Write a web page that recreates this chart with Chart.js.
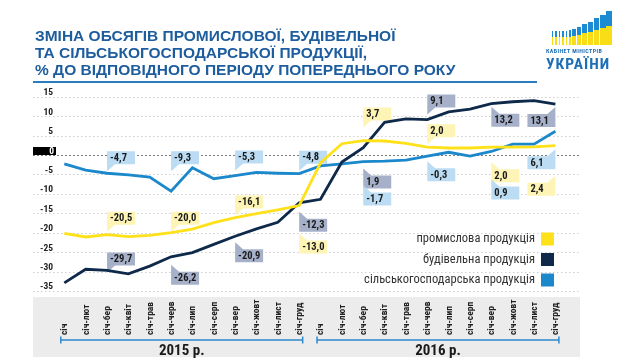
<!DOCTYPE html>
<html>
<head>
<meta charset="utf-8">
<script src="https://cdn.jsdelivr.net/npm/chart.js@4/dist/chart.umd.min.js"></script>
<style>
html,body{margin:0;padding:0;background:#fff;}
#wrap{position:relative;width:638px;height:359px;overflow:hidden;font-family:"Liberation Sans Narrow","Roboto Condensed","Roboto",sans-serif;}
#c{position:absolute;left:0;top:0;}
#title{position:absolute;left:35px;top:27px;color:#1d5d9e;font-family:"Liberation Sans",Arial,sans-serif;font-weight:bold;font-size:15.5px;line-height:17px;white-space:nowrap;}
#rule{position:absolute;left:33px;top:81px;width:504px;height:2px;background:#2b7bc0;}
#logo1{position:absolute;left:546px;top:47px;color:#1d6fb8;font-weight:bold;font-size:6px;letter-spacing:0.4px;white-space:nowrap;}
#logo2{position:absolute;left:546px;top:55px;color:#1d6fb8;font-weight:bold;font-size:15.5px;letter-spacing:1px;white-space:nowrap;}
.bar{position:absolute;background:linear-gradient(#1d8bd1 0%,#1d8bd1 45%,#f9dd16 45%,#f9dd16 100%);}
</style>
</head>
<body>
<div id="wrap">
<canvas id="c" width="638" height="359"></canvas>
<div id="title">ЗМІНА ОБСЯГІВ ПРОМИСЛОВОЇ, БУДІВЕЛЬНОЇ<br>ТА СІЛЬСЬКОГОСПОДАРСЬКОЇ ПРОДУКЦІЇ,<br>% ДО ВІДПОВІДНОГО ПЕРІОДУ ПОПЕРЕДНЬОГО РОКУ</div>
<div id="rule"></div>
<div id="bars"></div>
<div id="logo1">КАБІНЕТ МІНІСТРІВ</div>
<div id="logo2">УКРАЇНИ</div>
</div>
<script>
// ---------- data ----------
const months = ['січ','січ-лют','січ-бер','січ-квіт','січ-трав','січ-черв','січ-лип','січ-серп','січ-вер','січ-жовт','січ-лист','січ-груд',
                'січ','січ-лют','січ-бер','січ-квіт','січ-трав','січ-черв','січ-лип','січ-серп','січ-вер','січ-жовт','січ-лист','січ-груд'];
const years = ['2015 р.','2016 р.'];
const seriesNames = ['промислова продукція','будівельна продукція','сільськогосподарська продукція'];
const yTicks = [15,10,5,0,-5,-10,-15,-20,-25,-30,-35];
const industry =     [-20.2,-21.1,-20.5,-21.0,-20.7,-20.0,-19.1,-17.4,-16.1,-15.1,-14.1,-13.0,-2.0,2.9,3.7,3.6,3.0,2.0,1.8,1.8,2.0,2.0,2.1,2.4];
const construction = [-32.9,-29.4,-29.7,-30.6,-28.6,-26.2,-25.1,-23.0,-20.9,-19.0,-17.3,-12.3,-11.4,-1.8,1.9,8.4,9.3,9.1,11.1,11.8,13.2,13.7,14.0,13.1];
const agriculture =  [-2.3,-3.9,-4.7,-5.1,-5.7,-9.3,-3.3,-6.1,-5.3,-4.5,-4.7,-4.8,-2.8,-2.3,-1.7,-1.6,-1.3,-0.3,0.7,-0.3,0.9,2.8,2.8,6.1];
const labelIdx = [2,5,8,11,14,17,20,23];

// ---------- styling / layout ----------
const COLORS = ['#FFE11A','#0e2949','#1b88cc'];
const BOXBG = ['#fdf4b5','#a6b1c9','#bbdcf3'];
// box top offset (px) from point for each labelled index; negative = above the point
const boxOffsets = [
  [-23,-21,-22,35,-33,-23,22,37],
  [-18,15,13,16,28,-25,10,10],
  [-22,-40,-25,-23,31,12,35,25]
];
const FONT = '"Liberation Sans Narrow","Roboto Condensed","Roboto",sans-serif';

// logo bars
(function(){
  const bars = document.getElementById('bars');
  const spec = [
    [551.5,1.5,31],[555,1.5,31],[558.5,1.5,31],[562,1.5,31],[565.5,1.5,31],[569,1.5,30],
    [572,3.5,29],[577,4,27],[582,4.5,24],[587.5,5,21.5],[593.5,5.5,18],[600,5.5,14.5],[606,5.5,11]
  ];
  spec.forEach(s=>{
    const d=document.createElement('div');d.className='bar';
    d.style.left=s[0]+'px';d.style.width=s[1]+'px';d.style.top=s[2]+'px';d.style.height=(45-s[2])+'px';
    bars.appendChild(d);
  });
})();

const toPts = arr => arr.map((v,i)=>({x:i,y:v}));
const fmt = v => v.toFixed(1).replace('.',',');

const deco = {
  id:'deco',
  beforeDraw(chart){
    const ctx=chart.ctx;
    ctx.save();
    ctx.fillStyle='#ececec';
    ctx.fillRect(33,297,547,60);
    ctx.restore();
  },
  beforeDatasetsDraw(chart){
    const {ctx, chartArea:a, scales:{x,y}} = chart;
    ctx.save();
    // grid lines
    yTicks.forEach(v=>{
      const py=Math.round(y.getPixelForValue(v))+0.5;
      ctx.beginPath();
      ctx.setLineDash(v===0?[2,2]:[1.5,2.5]);
      ctx.strokeStyle=v===0?'#7a7a7a':'#cfcfcf';
      ctx.lineWidth=1;
      ctx.moveTo(a.left,py);ctx.lineTo(a.right,py);ctx.stroke();
    });
    ctx.setLineDash([]);
    // y labels
    ctx.font='bold 9.5px '+FONT;
    ctx.textAlign='right';ctx.textBaseline='middle';
    yTicks.forEach(v=>{
      const py=y.getPixelForValue(v);
      if(v===0){
        ctx.fillStyle='#000';ctx.fillRect(33,147,23,8);
        ctx.fillStyle='#fff';ctx.fillText('0',54,151.5);
      } else {
        ctx.fillStyle='#222';ctx.fillText(String(v),53,py-4);
      }
    });
    // value boxes
    const series=[industry,construction,agriculture];
    const W=28,H=13,TW=8,TH=7;
    ctx.font='bold 10.5px '+FONT;
    ctx.textAlign='left';ctx.textBaseline='middle';
    series.forEach((arr,s)=>{
      labelIdx.forEach((idx,k)=>{
        const px=x.getPixelForValue(idx), py=y.getPixelForValue(arr[idx]);
        const off=boxOffsets[s][k];
        const top=py+off, bot=top+H;
        const right = idx===months.length-1;
        ctx.fillStyle=BOXBG[s];
        ctx.beginPath();
        if(!right){
          const x0=px;
          if(off<0){ // box above, tail down
            ctx.moveTo(x0,top);ctx.lineTo(x0+W,top);ctx.lineTo(x0+W,bot);ctx.lineTo(x0+TW,bot);ctx.lineTo(x0,bot+TH);
          } else { // box below, tail up
            ctx.moveTo(x0,top-TH);ctx.lineTo(x0+TW,top);ctx.lineTo(x0+W,top);ctx.lineTo(x0+W,bot);ctx.lineTo(x0,bot);
          }
          ctx.closePath();ctx.fill();
          ctx.fillStyle='#1a1a1a';ctx.fillText(fmt(arr[idx]),x0+3,top+H/2+0.5);
        } else {
          const x1=px;
          if(off<0){
            ctx.moveTo(x1-W,top);ctx.lineTo(x1,top);ctx.lineTo(x1,bot+TH);ctx.lineTo(x1-TW,bot);ctx.lineTo(x1-W,bot);
          } else {
            ctx.moveTo(x1-W,top);ctx.lineTo(x1-TW,top);ctx.lineTo(x1,top-TH);ctx.lineTo(x1,bot);ctx.lineTo(x1-W,bot);
          }
          ctx.closePath();ctx.fill();
          ctx.fillStyle='#1a1a1a';ctx.fillText(fmt(arr[idx]),x1-W+3,top+H/2+0.5);
        }
      });
    });
    ctx.restore();
  },
  afterDraw(chart){
    const {ctx, scales:{x}} = chart;
    ctx.save();
    // legend
    ctx.font='12.5px '+FONT;ctx.textAlign='right';ctx.textBaseline='middle';
    seriesNames.forEach((n,i)=>{
      const cy=239+i*20.5;
      ctx.fillStyle='#333';ctx.fillText(n,535,cy);
      ctx.fillStyle=COLORS[i];ctx.fillRect(541,cy-6.5,13,13);
    });
    // x labels
    ctx.font='bold 9.5px '+FONT;ctx.fillStyle='#222';ctx.textAlign='left';ctx.textBaseline='middle';
    months.forEach((m,i)=>{
      const px=x.getPixelForValue(i);
      ctx.save();ctx.translate(px+0.5,335);ctx.rotate(-Math.PI/2);ctx.fillText(m,0,0);ctx.restore();
    });
    // brackets
    ctx.strokeStyle='#2e88cc';ctx.lineWidth=1.5;
    [[0,11],[12,23]].forEach((g,k)=>{
      const xa=x.getPixelForValue(g[0])-3.5, xb=x.getPixelForValue(g[1])+3.5;
      ctx.beginPath();
      ctx.moveTo(xa,340);ctx.lineTo(xb,340);
      ctx.moveTo(xa,336.5);ctx.lineTo(xa,343.5);
      ctx.moveTo(xb,336.5);ctx.lineTo(xb,343.5);
      ctx.stroke();
      ctx.font='bold 15px '+FONT;ctx.fillStyle='#1a1a1a';ctx.textAlign='center';ctx.textBaseline='middle';
      ctx.fillText(years[k],(xa+xb)/2,351.5);
    });
    ctx.restore();
  }
};

new Chart(document.getElementById('c'),{
  type:'line',
  data:{datasets:[
    {label:seriesNames[0],data:toPts(industry),borderColor:COLORS[0],borderWidth:2.8,pointRadius:0,tension:0,fill:false},
    {label:seriesNames[1],data:toPts(construction),borderColor:COLORS[1],borderWidth:2.8,pointRadius:0,tension:0,fill:false},
    {label:seriesNames[2],data:toPts(agriculture),borderColor:COLORS[2],borderWidth:2.8,pointRadius:0,tension:0,fill:false}
  ]},
  options:{
    responsive:false,animation:false,devicePixelRatio:1,
    layout:{padding:{left:33,right:58,top:85,bottom:64}},
    plugins:{legend:{display:false},title:{display:false},tooltip:{enabled:false}},
    scales:{
      x:{type:'linear',display:false,min:-1.466,max:24.152},
      y:{type:'linear',display:false,min:-36.03,max:18.01}
    }
  },
  plugins:[deco]
});
</script>
</body>
</html>
